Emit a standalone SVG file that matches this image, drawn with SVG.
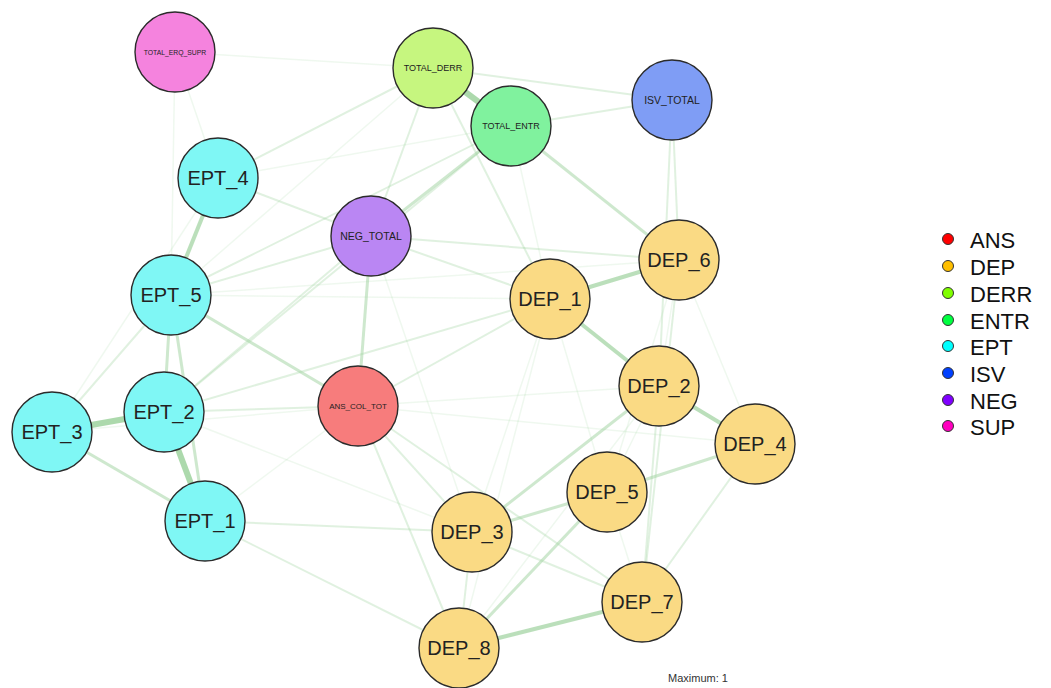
<svg xmlns="http://www.w3.org/2000/svg" width="1051" height="688" viewBox="0 0 1051 688">
<style>
.n{stroke:#2b2b2b;stroke-width:1.4}
.t{font-family:"Liberation Sans",Arial,sans-serif;text-anchor:middle;dominant-baseline:central;fill:#222}
.big{font-size:20px}
.e{stroke:#9ed29e;fill:none;stroke-linecap:butt}
.s1{stroke-width:6;stroke-opacity:.85}
.s2{stroke-width:4;stroke-opacity:.7}
.s3{stroke-width:3;stroke-opacity:.5}
.s4{stroke-width:2;stroke-opacity:.32}
.s5{stroke-width:1.5;stroke-opacity:.16}
.lg{font-family:"Liberation Sans",Arial,sans-serif;font-size:22px;fill:#111;dominant-baseline:central}
.d{stroke:#333;stroke-width:1}
</style>
<rect width="1051" height="688" fill="#ffffff"/>
<g id="connectors">
<line class="e s1" x1="52" y1="432" x2="164" y2="412"/>
<line class="e s1" x1="164" y1="412" x2="205" y2="521"/>
<line class="e s1" x1="433" y1="68" x2="511" y2="126"/>
<line class="e s2" x1="218" y1="178" x2="171" y2="295"/>
<line class="e s2" x1="550" y1="299" x2="659" y2="386"/>
<line class="e s2" x1="659" y1="386" x2="755" y2="444"/>
<line class="e s2" x1="550" y1="299" x2="679" y2="260"/>
<line class="e s2" x1="459" y1="648" x2="642" y2="602"/>
<line class="e s3" x1="171" y1="295" x2="164" y2="412"/>
<line class="e s3" x1="171" y1="295" x2="205" y2="521"/>
<line class="e s3" x1="171" y1="295" x2="358" y2="406"/>
<line class="e s3" x1="52" y1="432" x2="205" y2="521"/>
<line class="e s3" x1="371" y1="236" x2="358" y2="406"/>
<line class="e s3" x1="511" y1="126" x2="679" y2="260"/>
<line class="e s3" x1="472" y1="532" x2="659" y2="386"/>
<line class="e s3" x1="607" y1="492" x2="755" y2="444"/>
<line class="e s3" x1="472" y1="532" x2="607" y2="492"/>
<line class="e s3" x1="459" y1="648" x2="607" y2="492"/>
<line class="e s3" x1="371" y1="236" x2="511" y2="126"/>
<line class="e s4" x1="218" y1="178" x2="433" y2="68"/>
<line class="e s4" x1="511" y1="126" x2="672" y2="100"/>
<line class="e s4" x1="433" y1="68" x2="672" y2="100"/>
<line class="e s4" x1="672" y1="100" x2="679" y2="260"/>
<line class="e s4" x1="672" y1="100" x2="659" y2="386"/>
<line class="e s4" x1="205" y1="521" x2="472" y2="532"/>
<line class="e s4" x1="205" y1="521" x2="459" y2="648"/>
<line class="e s4" x1="358" y1="406" x2="472" y2="532"/>
<line class="e s4" x1="358" y1="406" x2="459" y2="648"/>
<line class="e s4" x1="358" y1="406" x2="550" y2="299"/>
<line class="e s4" x1="164" y1="412" x2="358" y2="406"/>
<line class="e s4" x1="171" y1="295" x2="371" y2="236"/>
<line class="e s4" x1="218" y1="178" x2="371" y2="236"/>
<line class="e s4" x1="371" y1="236" x2="550" y2="299"/>
<line class="e s4" x1="371" y1="236" x2="679" y2="260"/>
<line class="e s4" x1="371" y1="236" x2="433" y2="68"/>
<line class="e s4" x1="433" y1="68" x2="550" y2="299"/>
<line class="e s4" x1="171" y1="295" x2="511" y2="126"/>
<line class="e s4" x1="164" y1="412" x2="511" y2="126"/>
<line class="e s4" x1="164" y1="412" x2="371" y2="236"/>
<line class="e s4" x1="164" y1="412" x2="550" y2="299"/>
<line class="e s4" x1="679" y1="260" x2="642" y2="602"/>
<line class="e s4" x1="659" y1="386" x2="642" y2="602"/>
<line class="e s4" x1="755" y1="444" x2="642" y2="602"/>
<line class="e s4" x1="472" y1="532" x2="459" y2="648"/>
<line class="e s4" x1="472" y1="532" x2="642" y2="602"/>
<line class="e s4" x1="52" y1="432" x2="171" y2="295"/>
<line class="e s4" x1="358" y1="406" x2="642" y2="602"/>
<line class="e s5" x1="175" y1="52" x2="218" y2="178"/>
<line class="e s5" x1="175" y1="52" x2="171" y2="295"/>
<line class="e s5" x1="175" y1="52" x2="433" y2="68"/>
<line class="e s5" x1="218" y1="178" x2="511" y2="126"/>
<line class="e s5" x1="171" y1="295" x2="550" y2="299"/>
<line class="e s5" x1="171" y1="295" x2="679" y2="260"/>
<line class="e s5" x1="679" y1="260" x2="659" y2="386"/>
<line class="e s5" x1="679" y1="260" x2="755" y2="444"/>
<line class="e s5" x1="679" y1="260" x2="607" y2="492"/>
<line class="e s5" x1="659" y1="386" x2="607" y2="492"/>
<line class="e s5" x1="550" y1="299" x2="472" y2="532"/>
<line class="e s5" x1="550" y1="299" x2="607" y2="492"/>
<line class="e s5" x1="550" y1="299" x2="459" y2="648"/>
<line class="e s5" x1="358" y1="406" x2="659" y2="386"/>
<line class="e s5" x1="358" y1="406" x2="755" y2="444"/>
<line class="e s5" x1="371" y1="236" x2="472" y2="532"/>
<line class="e s5" x1="164" y1="412" x2="472" y2="532"/>
<line class="e s5" x1="52" y1="432" x2="218" y2="178"/>
<line class="e s5" x1="52" y1="432" x2="358" y2="406"/>
<line class="e s5" x1="205" y1="521" x2="358" y2="406"/>
<line class="e s5" x1="511" y1="126" x2="550" y2="299"/>
<line class="e s5" x1="433" y1="68" x2="171" y2="295"/>
<line class="e s5" x1="607" y1="492" x2="642" y2="602"/>
<line class="e s5" x1="459" y1="648" x2="659" y2="386"/>
</g>
<g id="node-SUP"><circle class="n" cx="175" cy="52" r="40" fill="#F583DE"/><text class="t" x="175" y="52" font-size="6.8">TOTAL_ERQ_SUPR</text></g>
<g id="node-DERR"><circle class="n" cx="433" cy="68" r="40" fill="#C6F67F"/><text class="t" x="433" y="68" font-size="9">TOTAL_DERR</text></g>
<g id="node-ENTR"><circle class="n" cx="511" cy="126" r="40" fill="#80F29E"/><text class="t" x="511" y="126" font-size="9">TOTAL_ENTR</text></g>
<g id="node-ISV"><circle class="n" cx="672" cy="100" r="40" fill="#7F9DF5"/><text class="t" x="672" y="100" font-size="10.5">ISV_TOTAL</text></g>
<g id="node-NEG"><circle class="n" cx="371" cy="236" r="40" fill="#BA86F3"/><text class="t" x="371" y="236" font-size="10.5">NEG_TOTAL</text></g>
<g id="node-ANS"><circle class="n" cx="358" cy="406" r="40" fill="#F77C7C"/><text class="t" x="358" y="406" font-size="8">ANS_COL_TOT</text></g>
<g id="node-EPT_4"><circle class="n" cx="218" cy="178" r="40" fill="#7FF7F5"/><text class="t big" x="218" y="178">EPT_4</text></g>
<g id="node-EPT_5"><circle class="n" cx="171" cy="295" r="40" fill="#7FF7F5"/><text class="t big" x="171" y="295">EPT_5</text></g>
<g id="node-EPT_2"><circle class="n" cx="164" cy="412" r="40" fill="#7FF7F5"/><text class="t big" x="164" y="412">EPT_2</text></g>
<g id="node-EPT_3"><circle class="n" cx="52" cy="432" r="40" fill="#7FF7F5"/><text class="t big" x="52" y="432">EPT_3</text></g>
<g id="node-EPT_1"><circle class="n" cx="205" cy="521" r="40" fill="#7FF7F5"/><text class="t big" x="205" y="521">EPT_1</text></g>
<g id="node-DEP_6"><circle class="n" cx="679" cy="260" r="40" fill="#FADA84"/><text class="t big" x="679" y="260">DEP_6</text></g>
<g id="node-DEP_1"><circle class="n" cx="550" cy="299" r="40" fill="#FADA84"/><text class="t big" x="550" y="299">DEP_1</text></g>
<g id="node-DEP_2"><circle class="n" cx="659" cy="386" r="40" fill="#FADA84"/><text class="t big" x="659" y="386">DEP_2</text></g>
<g id="node-DEP_4"><circle class="n" cx="755" cy="444" r="40" fill="#FADA84"/><text class="t big" x="755" y="444">DEP_4</text></g>
<g id="node-DEP_5"><circle class="n" cx="607" cy="492" r="40" fill="#FADA84"/><text class="t big" x="607" y="492">DEP_5</text></g>
<g id="node-DEP_3"><circle class="n" cx="472" cy="532" r="40" fill="#FADA84"/><text class="t big" x="472" y="532">DEP_3</text></g>
<g id="node-DEP_7"><circle class="n" cx="642" cy="602" r="40" fill="#FADA84"/><text class="t big" x="642" y="602">DEP_7</text></g>
<g id="node-DEP_8"><circle class="n" cx="459" cy="648" r="40" fill="#FADA84"/><text class="t big" x="459" y="648">DEP_8</text></g>
<g id="legend">
<circle class="d" cx="948" cy="239" r="5.5" fill="#FF0000"/><text class="lg" x="970" y="240">ANS</text>
<circle class="d" cx="948" cy="266" r="5.5" fill="#FFBF00"/><text class="lg" x="970" y="267">DEP</text>
<circle class="d" cx="948" cy="293" r="5.5" fill="#80FF00"/><text class="lg" x="970" y="294">DERR</text>
<circle class="d" cx="948" cy="320" r="5.5" fill="#00FF40"/><text class="lg" x="970" y="321">ENTR</text>
<circle class="d" cx="948" cy="346" r="5.5" fill="#00FFFF"/><text class="lg" x="970" y="347">EPT</text>
<circle class="d" cx="948" cy="373" r="5.5" fill="#0040FF"/><text class="lg" x="970" y="374">ISV</text>
<circle class="d" cx="948" cy="400" r="5.5" fill="#8000FF"/><text class="lg" x="970" y="401">NEG</text>
<circle class="d" cx="948" cy="426" r="5.5" fill="#FF00BF"/><text class="lg" x="970" y="427">SUP</text>
</g>
<text x="698" y="678" font-family="'Liberation Sans',Arial,sans-serif" font-size="11" fill="#333" text-anchor="middle" dominant-baseline="central">Maximum: 1</text>
</svg>
